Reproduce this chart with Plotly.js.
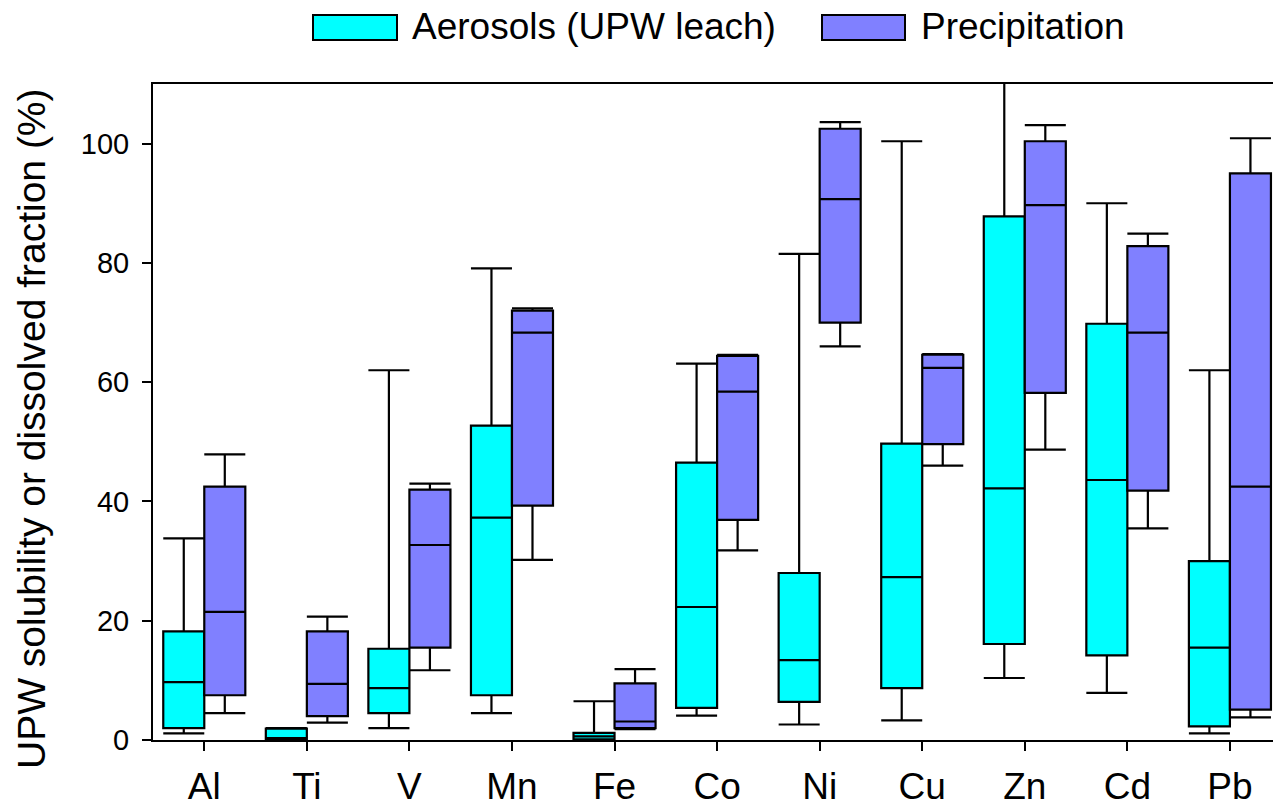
<!DOCTYPE html>
<html>
<head>
<meta charset="utf-8">
<script src="https://cdn.plot.ly/plotly-3.0.1.min.js"></script>
<style>html,body{margin:0;padding:0;background:#fff;overflow:hidden}</style>
</head>
<body>
<div id="chart" style="width:1273px;height:811px"></div>
<script>
// ---- data ----
const elements = ["Al","Ti","V","Mn","Fe","Co","Ni","Cu","Zn","Cd","Pb"];
const seriesNames = ["Aerosols (UPW leach)", "Precipitation"];
const yTitle = "UPW solubility or dissolved fraction (%)";

const aerLow    = [1.1, 0.0, 2.0,  4.5, 0.0,  4.1,  2.6,   3.3,  10.4,  7.9,  1.1];
const aerQ1     = [2.0, 0.05, 4.5, 7.5, 0.1,  5.4,  6.4,   8.7,  16.1, 14.2,  2.3];
const aerMedian = [9.7, 0.3, 8.7, 37.3, 0.6, 22.3, 13.4,  27.3,  42.2, 43.6, 15.5];
const aerQ3     = [18.2, 1.9, 15.3, 52.7, 1.2, 46.5, 28.0, 49.7, 87.8, 69.8, 30.0];
const aerHigh   = [33.8, 2.0, 62.0, 79.1, 6.5, 63.1, 81.5, 100.4, 118.0, 90.0, 62.0];

const preLow    = [4.5, 2.9, 11.7, 30.2, 1.8, 31.8, 66.0, 46.0, 48.7, 35.5,  3.8];
const preQ1     = [7.5, 4.0, 15.5, 39.3, 2.0, 36.9, 70.0, 49.6, 58.2, 41.8,  5.1];
const preMedian = [21.5, 9.4, 32.7, 68.3, 3.1, 58.4, 90.7, 62.4, 89.7, 68.3, 42.5];
const preQ3     = [42.5, 18.2, 42.0, 72.0, 9.5, 64.4, 102.5, 64.6, 100.4, 82.8, 95.0];
const preHigh   = [47.9, 20.7, 43.0, 72.4, 11.9, 64.6, 103.6, 64.7, 103.1, 84.9, 100.9];

const yTicks = [0, 20, 40, 60, 80, 100];

// ---- styles ----
const colors = ["#00FFFF", "#8080FF"];
const W = 1273, H = 811;
const M = {l:153, r:0, t:84, b:71};
const pw = W - M.l - M.r, ph = H - M.t - M.b;
const px2x = p => (p - M.l) / pw;
const py2y = p => (H - M.b - p) / ph;

function boxTrace(name, color, lo, q1, med, q3, hi) {
  return {
    type: "box", name: name, x: elements,
    lowerfence: lo, q1: q1, median: med, q3: q3, upperfence: hi,
    boxpoints: false, fillcolor: color,
    line: {color: "#000", width: 2.2},
    whiskerwidth: 1, hoverinfo: "skip", showlegend: false
  };
}

const data = [
  boxTrace(seriesNames[0], colors[0], aerLow, aerQ1, aerMedian, aerQ3, aerHigh),
  boxTrace(seriesNames[1], colors[1], preLow, preQ1, preMedian, preQ3, preHigh)
];

const font = "Liberation Sans, Arial, sans-serif";

// manual legend + y title
const legendItems = [
  {rect:[313, 397], text:413, name: seriesNames[0], color: colors[0]},
  {rect:[822, 905], text:922, name: seriesNames[1], color: colors[1]}
];
const shapes = [], annotations = [];
legendItems.forEach(it => {
  shapes.push({type:"rect", xref:"paper", yref:"paper",
    x0:px2x(it.rect[0]), x1:px2x(it.rect[1]), y0:py2y(40), y1:py2y(15),
    fillcolor:it.color, line:{color:"#000", width:2}});
  annotations.push({xref:"paper", yref:"paper", x:px2x(it.text - 3), y:py2y(27),
    xanchor:"left", yanchor:"middle", showarrow:false, text:it.name,
    font:{family:font, size:37, color:"#000"}});
});
annotations.push({xref:"paper", yref:"paper", x:px2x(31), y:py2y(429),
  xanchor:"center", yanchor:"middle", showarrow:false, textangle:-90,
  text:yTitle, font:{family:font, size:39, color:"#000"}});

const layout = {
  width: W, height: H,
  margin: M,
  paper_bgcolor: "#fff", plot_bgcolor: "#fff",
  boxmode: "group", boxgap: 0.2, boxgroupgap: 0,
  showlegend: false,
  font: {family: font, color: "#000"},
  xaxis: {
    type: "category", range: [-0.5, 10.42],
    showline: true, linecolor: "#000", linewidth: 2, mirror: true,
    ticks: "outside", ticklen: 9, tickwidth: 2, tickcolor: "#000",
    tickfont: {family: font, size: 37, color: "#000"},
    ticklabelstandoff: 4,
    showgrid: false, zeroline: false, fixedrange: true
  },
  yaxis: {
    range: [0, 110], tickvals: yTicks, ticktext: yTicks.map(String),
    showline: true, linecolor: "#000", linewidth: 2, mirror: false,
    ticks: "outside", ticklen: 9, tickwidth: 2, tickcolor: "#000",
    tickfont: {family: font, size: 29, color: "#000"},
    ticklabelstandoff: 7,
    showgrid: false, zeroline: false, fixedrange: true
  },
  shapes: shapes,
  annotations: annotations
};

Plotly.newPlot("chart", data, layout, {displayModeBar: false, staticPlot: true});
</script>
</body>
</html>
